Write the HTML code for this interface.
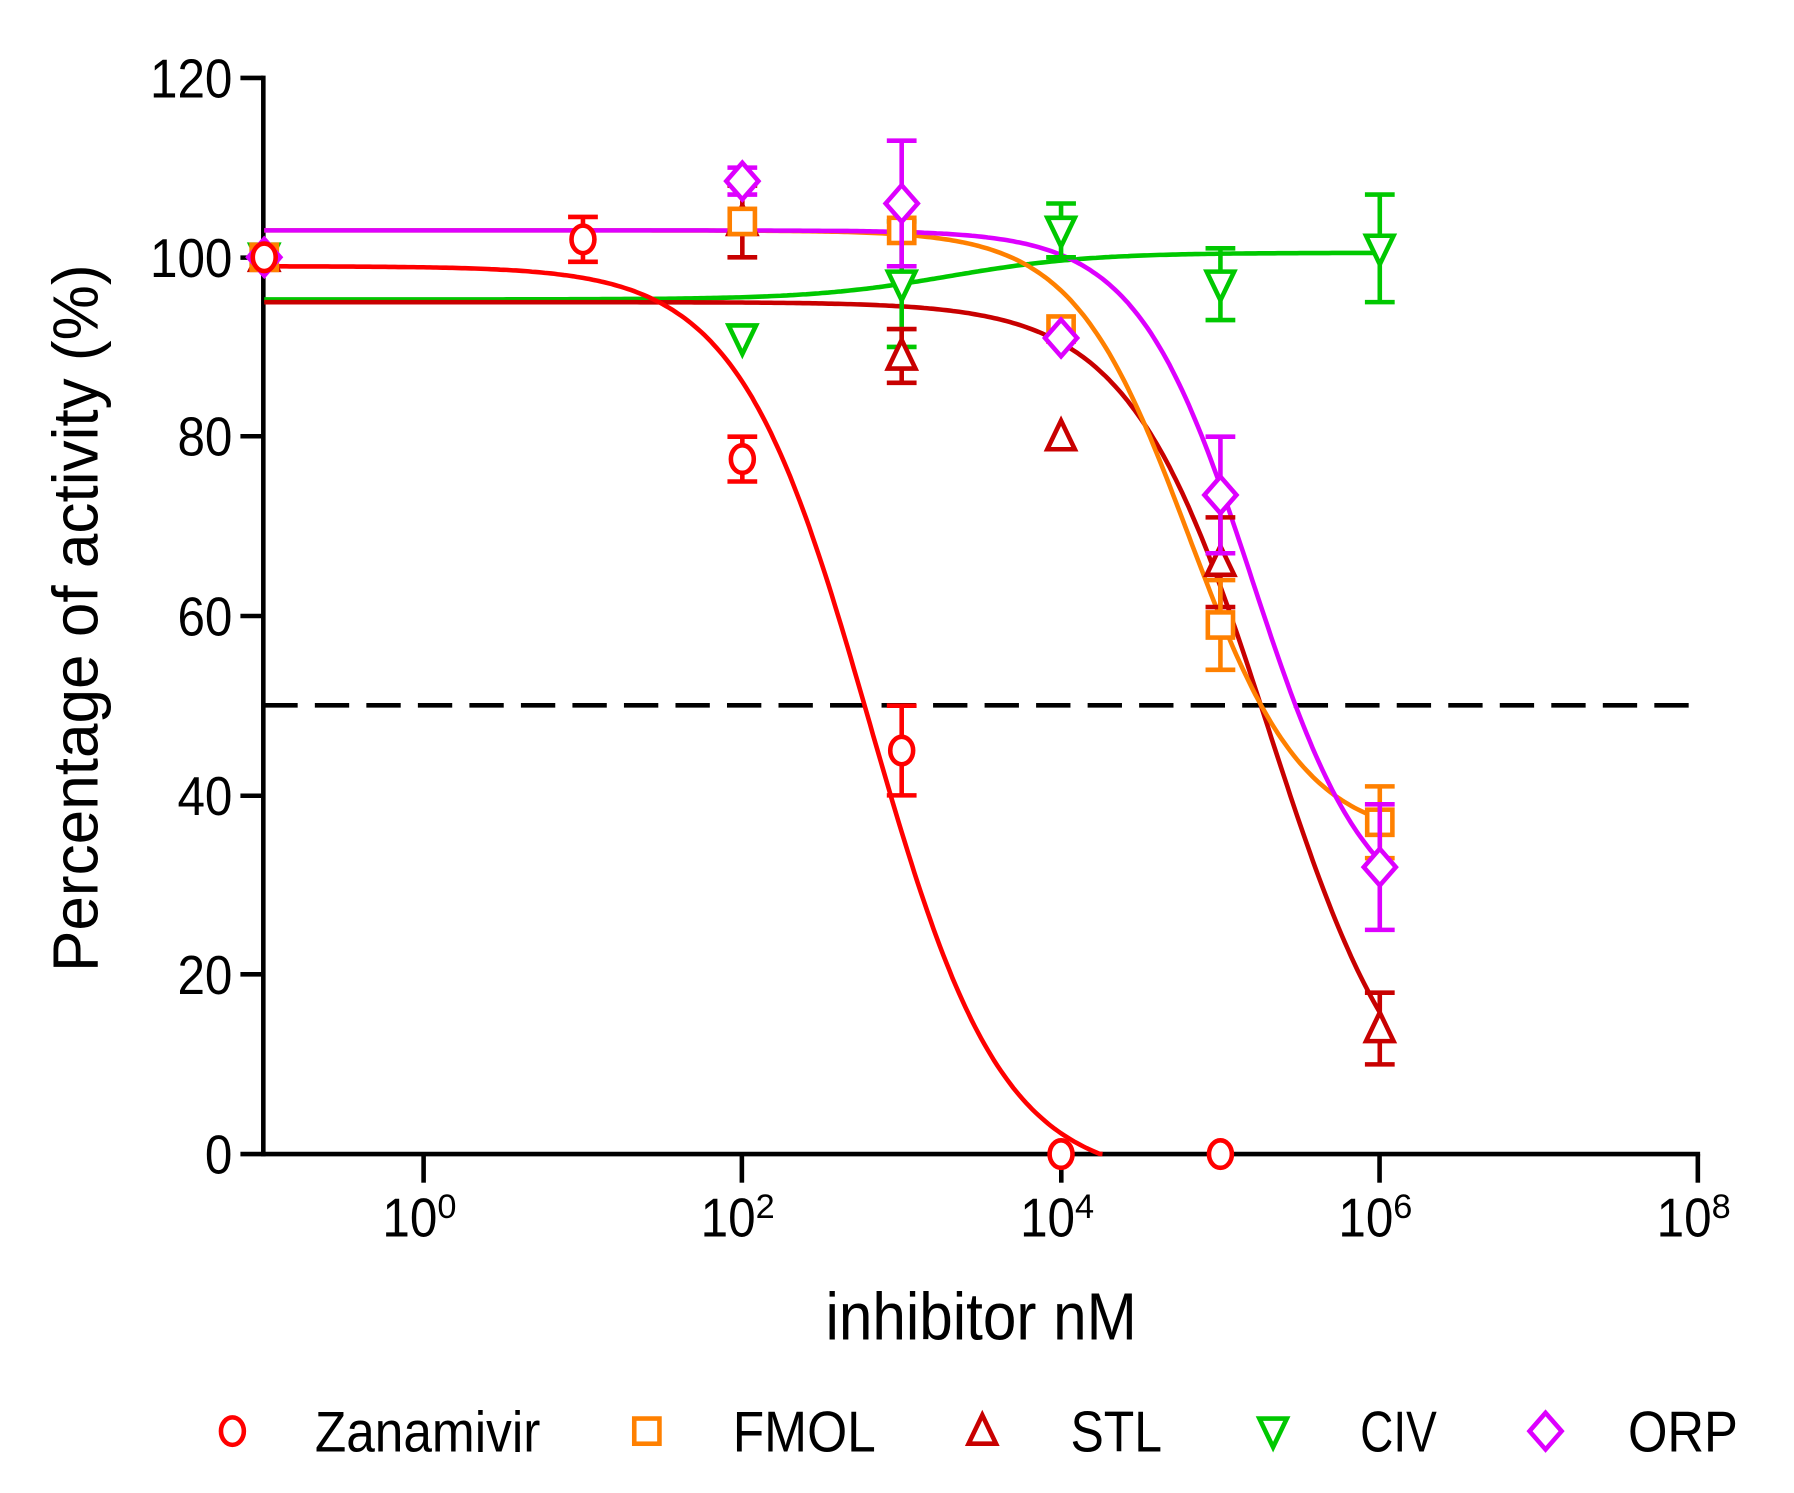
<!DOCTYPE html>
<html><head><meta charset="utf-8"><style>
html,body{margin:0;padding:0;background:#fff;}
svg{display:block;}
text{font-family:"Liberation Sans",Arial,sans-serif;fill:#000;}
</style></head><body>
<svg id="s" width="1794" height="1493" viewBox="0 0 1567 1304" xmlns="http://www.w3.org/2000/svg">
<g id="axes" stroke="#000" stroke-width="4" fill="none">
<line x1="230" y1="66" x2="230" y2="1010"/>
<line x1="210" y1="1008" x2="1485" y2="1008"/>
<line x1="210" y1="68" x2="230" y2="68"/>
<line x1="210" y1="225" x2="230" y2="225"/>
<line x1="210" y1="381" x2="230" y2="381"/>
<line x1="210" y1="538" x2="230" y2="538"/>
<line x1="210" y1="695" x2="230" y2="695"/>
<line x1="210" y1="851" x2="230" y2="851"/>
<line x1="370" y1="1008" x2="370" y2="1033"/>
<line x1="648" y1="1008" x2="648" y2="1033"/>
<line x1="927" y1="1008" x2="927" y2="1033"/>
<line x1="1205" y1="1008" x2="1205" y2="1033"/>
<line x1="1483" y1="1008" x2="1483" y2="1033"/>
<line x1="230" y1="616" x2="1485" y2="616" stroke-dasharray="30,15"/>
</g>
<g font-size="48" text-anchor="end" lengthAdjust="spacingAndGlyphs">
<text x="203" y="85" textLength="72" lengthAdjust="spacingAndGlyphs">120</text>
<text x="203" y="242" textLength="72" lengthAdjust="spacingAndGlyphs">100</text>
<text x="203" y="398" textLength="48" lengthAdjust="spacingAndGlyphs">80</text>
<text x="203" y="555" textLength="48" lengthAdjust="spacingAndGlyphs">60</text>
<text x="203" y="712" textLength="48" lengthAdjust="spacingAndGlyphs">40</text>
<text x="203" y="868" textLength="48" lengthAdjust="spacingAndGlyphs">20</text>
<text x="203" y="1025" textLength="24" lengthAdjust="spacingAndGlyphs">0</text>
</g>
<g font-size="48">
<text x="334" y="1080"><tspan textLength="48" lengthAdjust="spacingAndGlyphs">10</tspan><tspan font-size="30" dy="-16">0</tspan></text>
<text x="612" y="1080"><tspan textLength="48" lengthAdjust="spacingAndGlyphs">10</tspan><tspan font-size="30" dy="-16">2</tspan></text>
<text x="891" y="1080"><tspan textLength="48" lengthAdjust="spacingAndGlyphs">10</tspan><tspan font-size="30" dy="-16">4</tspan></text>
<text x="1169" y="1080"><tspan textLength="48" lengthAdjust="spacingAndGlyphs">10</tspan><tspan font-size="30" dy="-16">6</tspan></text>
<text x="1447" y="1080"><tspan textLength="48" lengthAdjust="spacingAndGlyphs">10</tspan><tspan font-size="30" dy="-16">8</tspan></text>
</g>
<text x="721" y="1170" font-size="58" textLength="272" lengthAdjust="spacingAndGlyphs">inhibitor nM</text>
<text transform="translate(85,540) rotate(-90)" font-size="56" text-anchor="middle" textLength="618" lengthAdjust="spacingAndGlyphs">Percentage of activity (%)</text>
<g id="plot"></g>
<g font-size="50">
<text x="275" y="1268" textLength="197" lengthAdjust="spacingAndGlyphs">Zanamivir</text>
<text x="640" y="1268" textLength="125" lengthAdjust="spacingAndGlyphs">FMOL</text>
<text x="935" y="1268" textLength="80" lengthAdjust="spacingAndGlyphs">STL</text>
<text x="1188" y="1268" textLength="67" lengthAdjust="spacingAndGlyphs">CIV</text>
<text x="1422" y="1268" textLength="96" lengthAdjust="spacingAndGlyphs">ORP</text>
</g>
</svg>
<script>
const NS="http://www.w3.org/2000/svg";
const g=document.getElementById('plot');
const X=l=>370+139.2*l, Y=v=>1008-7.833*v;
function el(t,a,p){const e=document.createElementNS(NS,t);for(const k in a)e.setAttribute(k,a[k]);(p||g).appendChild(e);return e;}
function curve(c,top,bot,ic,h,clip){let d="";let started=false;for(let l=-1;l<=6.001;l+=0.02){let v=bot+(top-bot)/(1+Math.pow(10,h*(l-ic)));if(clip&&v<0){if(started){let x=X(l);d+=`L${x.toFixed(1)},${Y(0)}`;}break;}d+=(started?"L":"M")+X(l).toFixed(1)+","+Y(v).toFixed(1);started=true;}
el('path',{d:d,stroke:c,'stroke-width':4,fill:'none'});}
function marker(type,c,x,y,par){const a={stroke:c,'stroke-width':4,fill:'#fff'};
if(type=='o')el('ellipse',Object.assign({cx:x,cy:y,rx:10,ry:12},a),par);
if(type=='s')el('rect',Object.assign({x:x-11,y:y-11,width:22,height:22},a),par);
if(type=='t')el('polygon',Object.assign({points:`${x},${y-14} ${x-12},${y+11} ${x+12},${y+11}`},a),par);
if(type=='v')el('polygon',Object.assign({points:`${x},${y+14} ${x-12},${y-11} ${x+12},${y-11}`},a),par);
if(type=='d')el('polygon',Object.assign({points:`${x},${y-16} ${x-14},${y} ${x},${y+16} ${x+14},${y}`},a),par);}
function pts(type,c,data){for(const [l,v,e] of data){const x=X(l),y=Y(v);if(e){const a={stroke:c,'stroke-width':4};el('line',Object.assign({x1:x,y1:Y(v+e),x2:x,y2:Y(v-e)},a));el('line',Object.assign({x1:x-13,y1:Y(v+e),x2:x+13,y2:Y(v+e)},a));el('line',Object.assign({x1:x-13,y1:Y(v-e),x2:x+13,y2:Y(v-e)},a));}marker(type,c,x,y);}}
const R="#ff0000",O="#ff8000",D="#c80000",G="#00c800",M="#dd00ff";
curve(G,95.3,100.5,3.3,1.0);
curve(D,95,0,5.3,1.0);
curve(O,103,35,4.8,1.2);
curve(M,103,25,5.2,1.2);
curve(R,99,-3,2.8,1.05,true);
pts('v',G,[[-1,100,0],[2,91,0],[3,97,7],[4,103,3],[5,97,4],[6,101,6]]);
pts('t',D,[[-1,100,0],[2,104,4],[3,89,3],[4,80,0],[5,66,5],[6,14,4]]);
pts('s',O,[[-1,100,0],[2,104,0],[3,103,0],[4,92,0],[5,59,5],[6,37,4]]);
pts('d',M,[[-1,100,0],[2,108.5,1.5],[3,106,7],[4,91,0],[5,73.5,6.5],[6,32,7]]);
pts('o',R,[[-1,100,0],[1,102,2.5],[2,77.5,2.5],[3,45,5],[4,0,0],[5,0,0]]);
const s=document.getElementById('s');
marker('o',R,203,1250,s);marker('s',O,565,1250,s);marker('t',D,858,1250,s);marker('v',G,1112,1250,s);marker('d',M,1350,1250,s);
</script>
</body></html>
